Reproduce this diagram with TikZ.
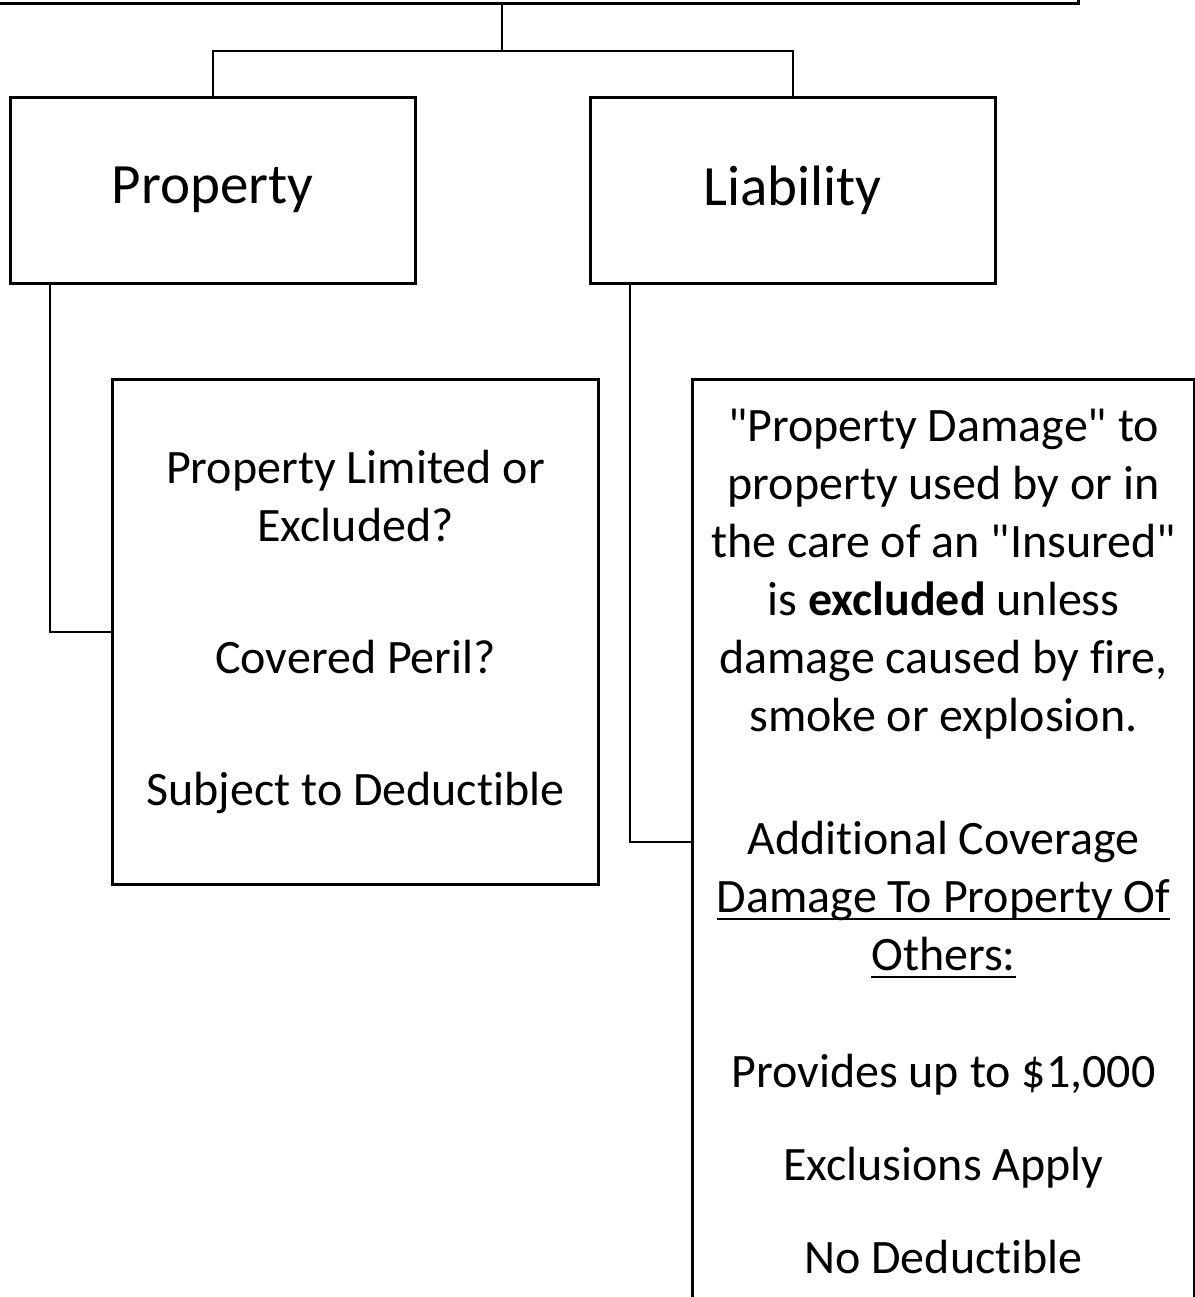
\documentclass[tikz,border=0pt]{standalone}
\usepackage{fontspec}
\setmainfont{Carlito}[Ligatures={NoCommon}]
\usetikzlibrary{positioning}

\tikzset{
	main node/.style = {rectangle,draw,line width=1.5pt,inner sep=0pt,
		minimum width=202.5pt,minimum height=93pt,font=\fontsize{28.5}{34}\selectfont},
	detail node/.style = {rectangle,draw,line width=1.5pt,inner sep=0pt,
		align=center,font=\fontsize{24}{29}\selectfont},
	link/.style = {line width=1pt}
}
\newcommand{\quo}{\textquotedbl}
\newcommand{\uln}[1]{\setbox0=\hbox{#1}\rlap{\rule[-3.8pt]{\wd0}{1pt}}\box0}

\begin{document}
\begin{tikzpicture}[x=0.5pt,y=-0.5pt]
	\clip (0,0) rectangle (1195,1297);
	
	\node[main node,minimum width=576pt,minimum height=70pt,anchor=south] (top) at (502,5) {};
	\node[main node] (prop) at (212.5,190) {Property};
	\node[main node] [right=86pt of prop] (liab) {Liability};
	
	\node[detail node,minimum width=243pt,minimum height=252.5pt,anchor=north west] (propdet) at (111,378)
		{Property Limited or\\ Excluded?\\[37pt] Covered Peril?\\[37pt] Subject to Deductible};
	\node[detail node,minimum width=251pt,minimum height=462pt,anchor=north west] (liabdet) at (691,378)
		{\quo Property Damage\quo{} to\\ property used by or in\\ the care of an \quo Insured\quo\\
		 is \textbf{excluded} unless\\ damage caused by fire,\\ smoke or explosion.\\[32.5pt]
		 Additional Coverage\\ \uln{Damage To Property Of}\\ \uln{Others:}\\[29.5pt]
		 Provides up to \$1,000\\[17.5pt] Exclusions Apply\\[17.5pt] No Deductible};
	
	\draw[link] (top.south) -- ++(0,46) coordinate (fork) -| (prop.north);
	\draw[link] (fork) -| (liab.north);
	\draw[link] ([xshift=20.5pt]prop.south west) |- (propdet.west);
	\draw[link] ([xshift=20.5pt]liab.south west) |- (liabdet.west);
	
\end{tikzpicture}
\end{document}
